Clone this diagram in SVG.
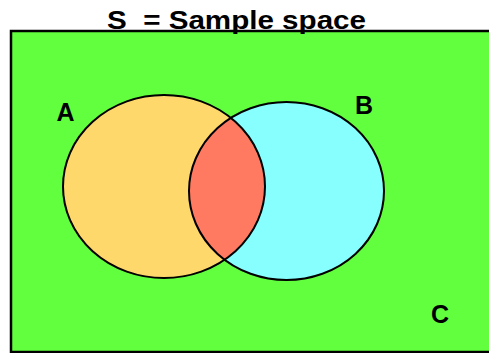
<svg xmlns="http://www.w3.org/2000/svg" width="489" height="353" viewBox="0 0 489 353">
<style>
.lbl{font-family:"Liberation Sans",Arial,sans-serif;font-weight:bold;font-size:25px;fill:#000}
.edge{fill:none;stroke:#000;stroke-width:2}
</style>
<defs>
<clipPath id="clipA"><ellipse cx="164" cy="186.5" rx="101" ry="91.5"/></clipPath>
</defs>
<rect width="489" height="353" fill="#fff"/>
<g id="space">
<rect x="11" y="31" width="481" height="321" fill="#62FF3E" stroke="#000" stroke-width="2.5"/>
<text class="lbl" x="107" y="29" textLength="259" lengthAdjust="spacingAndGlyphs" xml:space="preserve">S  = Sample space</text>
<text class="lbl" x="440" y="323" text-anchor="middle">C</text>
</g>
<g id="setA">
<ellipse cx="164" cy="186.5" rx="101" ry="91.5" fill="#FFD86C"/>
<text class="lbl" x="65.5" y="121" text-anchor="middle">A</text>
</g>
<g id="setB">
<ellipse cx="286.5" cy="191" rx="97.5" ry="89" fill="#88FFFF"/>
<text class="lbl" x="364" y="114" text-anchor="middle">B</text>
</g>
<g id="intersection">
<ellipse cx="286.5" cy="191" rx="97.5" ry="89" fill="#FF7A60" clip-path="url(#clipA)"/>
</g>
<g id="outlines">
<ellipse class="edge" cx="164" cy="186.5" rx="101" ry="91.5"/>
<ellipse class="edge" cx="286.5" cy="191" rx="97.5" ry="89"/>
</g>
</svg>
